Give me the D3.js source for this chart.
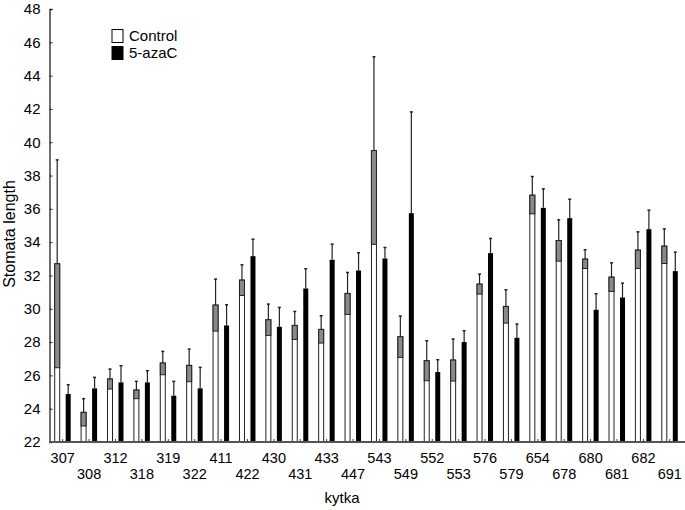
<!DOCTYPE html>
<html lang="en">
<head>
  <meta charset="UTF-8">
  <title>Stomata length</title>
  <style>
    body { margin: 0; background: #fff; }
    svg text { font-family: Arial, "Liberation Sans", sans-serif; fill: #000; }
  </style>
</head>
<body>
  <svg class="chart" width="685" height="510"></svg>
  <script src="https://cdn.jsdelivr.net/npm/d3@7"></script>
  <script>
    var categories = ["307", "308", "312", "318", "319", "322", "411", "422", "430", "431", "433", "447",
                      "543", "549", "552", "553", "576", "579", "654", "678", "680", "681", "682", "691"];
    var controlMean = [32.7, 23.78, 25.78, 25.12, 26.74, 26.6, 30.22, 31.72, 29.34, 29.0, 28.76, 30.92,
                       39.5, 28.32, 26.88, 26.92, 31.48, 30.14, 36.82, 34.1, 32.98, 31.9, 33.52, 33.76];
    var controlErr = [6.24, 0.82, 0.6, 0.52, 0.7, 0.98, 1.56, 0.92, 0.94, 0.84, 0.82, 1.26,
                      5.63, 1.24, 1.2, 1.26, 0.6, 1.0, 1.12, 1.24, 0.56, 0.86, 1.1, 1.04];
    var azaMean = [24.88, 25.22, 25.58, 25.58, 24.78, 25.22, 29.0, 33.16, 28.92, 31.22, 32.94, 32.3,
                   33.02, 35.74, 26.2, 28.0, 33.34, 28.26, 36.06, 35.44, 29.94, 30.68, 34.78, 32.26];
    var azaErr = [0.56, 0.66, 1.0, 0.7, 0.86, 1.26, 1.24, 1.02, 1.16, 1.18, 0.94, 1.06,
                  0.66, 6.08, 0.74, 0.68, 0.88, 0.82, 1.14, 1.14, 0.96, 0.86, 1.14, 1.14];
    var yTicks = [22, 24, 26, 28, 30, 32, 34, 36, 38, 40, 42, 44, 46, 48];
    var seriesNames = ["Control", "5-azaC"];

    var plotLeft = 49.5, plotRight = 683, plotTop = 9, plotBottom = 442;

    var x = d3.scaleBand().domain(categories).range([plotLeft, plotRight]);
    var y = d3.scaleLinear().domain([22, 48]).range([plotBottom, plotTop]);

    var svg = d3.select(".chart");
    var cx = function(i) { return x(categories[i]) + x.bandwidth() / 2; };
    var barW = 5;

    var data = categories.map(function(c, i) {
      return {i: i, cm: controlMean[i], ce: controlErr[i], am: azaMean[i], ae: azaErr[i]};
    });

    var g = svg.append("g").selectAll("g").data(data).enter().append("g");

    // control bars (white) with the lower error part shaded grey
    g.append("rect")
      .attr("x", function(d) { return cx(d.i) - 8; })
      .attr("y", function(d) { return y(d.cm); })
      .attr("width", barW)
      .attr("height", function(d) { return y(22) - y(d.cm); })
      .attr("fill", "#fff").attr("stroke", "#222").attr("stroke-width", 1);
    g.append("rect")
      .attr("x", function(d) { return cx(d.i) - 8; })
      .attr("y", function(d) { return y(d.cm); })
      .attr("width", barW)
      .attr("height", function(d) { return y(d.cm - d.ce) - y(d.cm); })
      .attr("fill", "#8a8a8a").attr("stroke", "#222").attr("stroke-width", 1);

    // 5-azaC bars (black)
    g.append("rect")
      .attr("x", function(d) { return cx(d.i) + 3; })
      .attr("y", function(d) { return y(d.am); })
      .attr("width", barW)
      .attr("height", function(d) { return y(22) - y(d.am); })
      .attr("fill", "#000");

    // upper error bars
    function whisker(sel, off, mean, err) {
      sel.append("line")
        .attr("x1", function(d) { return cx(d.i) + off; })
        .attr("x2", function(d) { return cx(d.i) + off; })
        .attr("y1", function(d) { return y(d[mean]); })
        .attr("y2", function(d) { return y(d[mean] + d[err]); })
        .attr("stroke", "#222").attr("stroke-width", 1.2);
      sel.append("line")
        .attr("x1", function(d) { return cx(d.i) + off - 1.5; })
        .attr("x2", function(d) { return cx(d.i) + off + 1.5; })
        .attr("y1", function(d) { return y(d[mean] + d[err]); })
        .attr("y2", function(d) { return y(d[mean] + d[err]); })
        .attr("stroke", "#222").attr("stroke-width", 1.5);
    }
    whisker(g, -5.5, "cm", "ce");
    whisker(g, 5.5, "am", "ae");

    // y axis
    var yAxis = svg.append("g")
      .attr("transform", "translate(" + plotLeft + ",0)")
      .call(d3.axisLeft(y).tickValues(yTicks).tickSize(-3).tickPadding(9).tickFormat(d3.format("d")));
    yAxis.select(".domain").attr("stroke", "#222").attr("stroke-width", 1.3);
    yAxis.selectAll(".tick line").attr("stroke", "#222");
    yAxis.selectAll("text").attr("font-size", 15).attr("font-family", null);

    // x axis
    var xAxis = svg.append("g")
      .attr("transform", "translate(0," + plotBottom + ")")
      .call(d3.axisBottom(x).tickSize(-3).tickSizeOuter(0).tickPadding(8));
    xAxis.select(".domain").attr("stroke", "#555").attr("stroke-width", 2)
      .attr("d", "M" + plotLeft + ",0H685");
    xAxis.selectAll(".tick line").attr("stroke", "#444");
    xAxis.selectAll("text")
      .attr("font-size", 14.5).attr("font-family", null)
      .attr("y", function(d, i) { return i % 2 ? 27 : 11; });

    // axis titles
    svg.append("text")
      .attr("transform", "translate(15,234) rotate(-90)")
      .attr("text-anchor", "middle").attr("font-size", 16)
      .text("Stomata length");
    svg.append("text")
      .attr("x", 342).attr("y", 503)
      .attr("text-anchor", "middle").attr("font-size", 15)
      .text("kytka");

    // legend
    var legend = svg.append("g").selectAll("g").data(seriesNames).enter().append("g")
      .attr("transform", function(d, i) { return "translate(112," + (29.5 + i * 17) + ")"; });
    legend.append("rect")
      .attr("width", 11).attr("height", 13)
      .attr("fill", function(d, i) { return i ? "#000" : "#fff"; })
      .attr("stroke", "#000");
    legend.append("text")
      .attr("x", 17).attr("y", 11.5)
      .attr("font-size", 15)
      .text(function(d) { return d; });
  </script>
</body>
</html>
